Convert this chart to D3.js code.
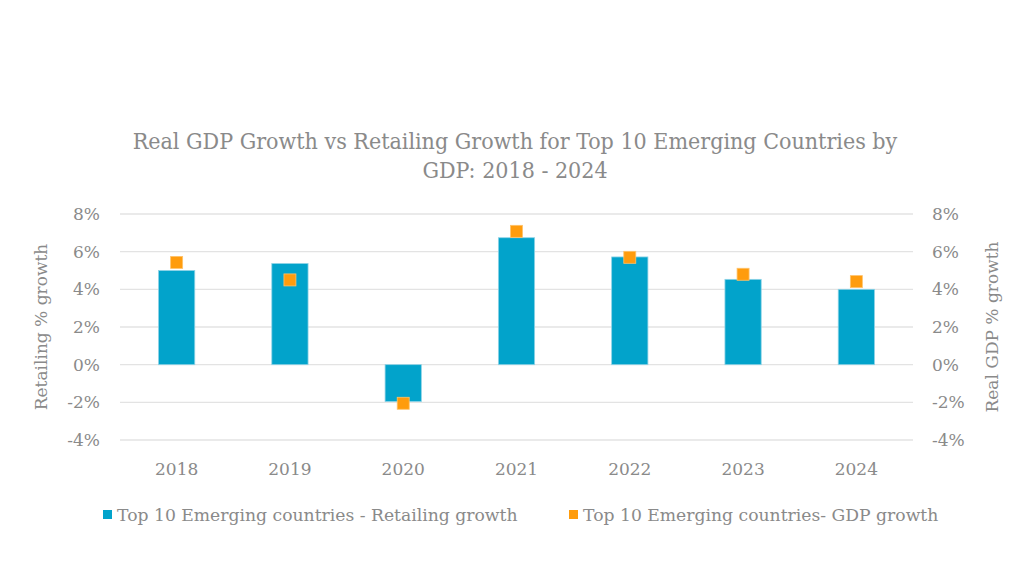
<!DOCTYPE html>
<html><head><meta charset="utf-8">
<script src="https://cdn.jsdelivr.net/npm/d3@7"></script>
<style>
body{margin:0;background:#fff;}
text{font-family:"DejaVu Serif",serif;fill:#8a8a8a;}
</style></head>
<body><svg id="c" width="1024" height="569"></svg>
<script>
const years = ["2018","2019","2020","2021","2022","2023","2024"];
const retailGrowth = [5.0, 5.37, -1.96, 6.74, 5.72, 4.53, 4.0];
const gdpGrowth = [5.43, 4.5, -2.05, 7.08, 5.7, 4.8, 4.41];
const tickValues = [-4, -2, 0, 2, 4, 6, 8];
const seriesNames = ["Top 10 Emerging countries - Retailing growth", "Top 10 Emerging countries- GDP growth"];
const titleLines = ["Real GDP Growth vs Retailing Growth for Top 10 Emerging Countries by", "GDP: 2018 - 2024"];

const svg = d3.select("#c");
const L = 120, R = 913, T = 214, B = 440;
const x = d3.scaleBand().domain(years).range([L, R]).paddingInner(0.68).paddingOuter(0.34);
const y = d3.scaleLinear().domain([-4, 8]).range([B, T]);

svg.append("g").selectAll("line").data(tickValues).join("line")
  .attr("x1", L).attr("x2", R).attr("y1", d => y(d)).attr("y2", d => y(d))
  .attr("stroke", "#e3e3e3").attr("stroke-width", 1.3);

const fmt = d => d + "%";
const yl = d3.axisLeft(y).tickValues(tickValues).tickFormat(fmt).tickSize(0).tickPadding(0);
const gl = svg.append("g").attr("transform", `translate(${L - 20},0)`).call(yl);
const yr = d3.axisRight(y).tickValues(tickValues).tickFormat(fmt).tickSize(0).tickPadding(0);
const gr = svg.append("g").attr("transform", `translate(${R + 19},0)`).call(yr);
[gl, gr].forEach(g => { g.select(".domain").remove(); g.selectAll("text").style("font-size", "17px").style("font-family", "'DejaVu Serif',serif").attr("fill", "#8a8a8a"); });

const xa = d3.axisBottom(x).tickSize(0).tickPadding(0);
const gx = svg.append("g").attr("transform", `translate(0,${B + 23})`).call(xa);
gx.select(".domain").remove();
gx.selectAll("text").style("font-size", "17px").style("font-family", "'DejaVu Serif',serif").attr("fill", "#8a8a8a");

svg.append("g").selectAll("rect").data(years).join("rect")
  .attr("x", d => x(d)).attr("width", x.bandwidth())
  .attr("y", (d, i) => y(Math.max(0, retailGrowth[i])))
  .attr("height", (d, i) => Math.abs(y(retailGrowth[i]) - y(0)))
  .attr("fill", "#02a3cb").attr("stroke", "#8fd3e6").attr("stroke-width", 0.8);

const ms = 12;
svg.append("g").selectAll("rect").data(years).join("rect")
  .attr("x", d => x(d) + x.bandwidth() / 2 - ms / 2).attr("width", ms)
  .attr("y", (d, i) => y(gdpGrowth[i]) - ms / 2).attr("height", ms)
  .attr("fill", "#ff9c0d").attr("stroke", "#ffc26a").attr("stroke-width", 0.8);

svg.append("g").selectAll("text").data(titleLines).join("text")
  .attr("x", 515).attr("y", (d, i) => 149 + i * 29).attr("text-anchor", "middle")
  .style("font-family", "'DejaVu Serif Condensed','DejaVu Serif',serif")
  .style("font-size", "23px").text(d => d);

svg.append("text").attr("transform", `translate(47,327) rotate(-90)`).attr("text-anchor", "middle")
  .style("font-size", "17px").text("Retailing % growth");
svg.append("text").attr("transform", `translate(998,327) rotate(-90)`).attr("text-anchor", "middle")
  .style("font-size", "17px").text("Real GDP % growth");

const leg = [{x: 103, c: "#02a3cb"}, {x: 569, c: "#ff9c0d"}];
leg.forEach((l, i) => {
  svg.append("rect").attr("x", l.x).attr("y", 510).attr("width", 9).attr("height", 9).attr("fill", l.c);
  svg.append("text").attr("x", l.x + 14).attr("y", 521).style("font-size", "17.2px").text(seriesNames[i]);
});
</script></body></html>
